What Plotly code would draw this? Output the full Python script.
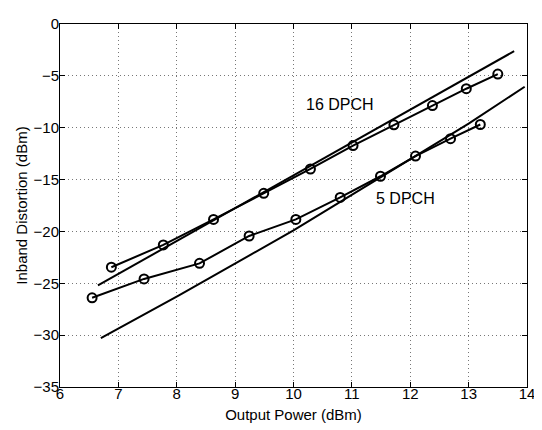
import plotly.graph_objects as go

# 16 DPCH measured
x16 = [6.88, 7.77, 8.63, 9.49, 10.29, 11.02, 11.72, 12.38, 12.96, 13.50]
y16 = [-23.45, -21.3, -18.84, -16.33, -13.98, -11.72, -9.72, -7.87, -6.24, -4.83]
# 16 DPCH reference line
x16_fit = [6.65, 13.78]
y16_fit = [-25.2, -2.62]

# 5 DPCH measured
x5 = [6.55, 7.44, 8.39, 9.24, 10.04, 10.80, 11.49, 12.09, 12.69, 13.20]
y5 = [-26.4, -24.58, -23.08, -20.44, -18.84, -16.72, -14.68, -12.73, -11.06, -9.69]
# 5 DPCH reference line
x5_fit = [6.70, 8.03, 10.0, 13.0, 13.96]
y5_fit = [-30.29, -26.2, -19.9, -9.6, -6.05]

labels = ["16 DPCH", "5 DPCH"]
label_x = [10.79, 11.92]
label_y = [-7.74, -16.8]

x_ticks = [6, 7, 8, 9, 10, 11, 12, 13, 14]
y_ticks = [0, -5, -10, -15, -20, -25, -30, -35]

fig = go.Figure()
lw = 2
for xs, ys in [(x16_fit, y16_fit), (x5_fit, y5_fit)]:
    fig.add_trace(go.Scatter(x=xs, y=ys, mode="lines",
                             line=dict(color="black", width=lw), showlegend=False))
for xs, ys in [(x16, y16), (x5, y5)]:
    fig.add_trace(go.Scatter(x=xs, y=ys, mode="lines+markers",
                             line=dict(color="black", width=lw),
                             marker=dict(symbol="circle-open", size=9, color="black",
                                         line=dict(width=2, color="black")),
                             showlegend=False))

for t, xx, yy in zip(labels, label_x, label_y):
    fig.add_annotation(x=xx, y=yy, text=t, showarrow=False,
                       font=dict(size=16, color="black"))

axis_common = dict(showline=True, linecolor="black", linewidth=1, mirror="ticks",
                   ticks="inside", ticklen=5, tickcolor="black",
                   showgrid=True, gridcolor="#777777", griddash="1px,3px", gridwidth=1,
                   zeroline=False, tickfont=dict(size=15, color="black"),
                   ticklabeloverflow="allow")

fig.update_xaxes(range=[6, 14], tickvals=x_ticks, ticklabelstandoff=-7,
                 title=dict(text="Output Power (dBm)", font=dict(size=15, color="black"), standoff=8),
                 **axis_common)
fig.update_yaxes(range=[-35, 0], tickvals=y_ticks, ticklabelstandoff=-3,
                 title=dict(text="Inband Distortion (dBm)", font=dict(size=15, color="black"), standoff=2),
                 **axis_common)

# page body has an 8px margin, so the figure is sized/offset accordingly
fig.update_layout(width=534, height=422,
                  margin=dict(l=52, r=8, t=7, b=43),
                  plot_bgcolor="white", paper_bgcolor="white",
                  font=dict(family="Liberation Sans, Arial, sans-serif", color="black"))

fig.write_html("out.html")
